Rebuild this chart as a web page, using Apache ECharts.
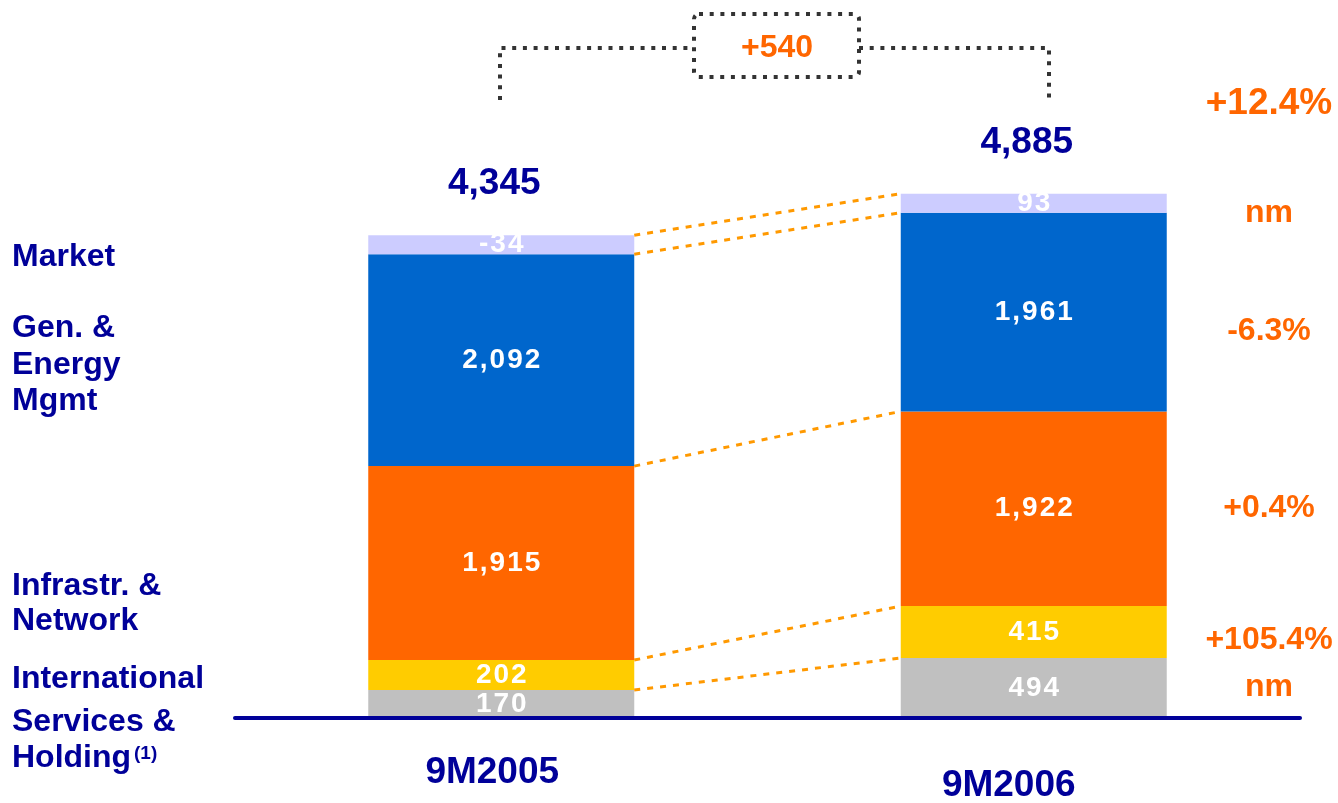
<!DOCTYPE html>
<html>
<head>
<meta charset="utf-8">
<script src="https://cdn.jsdelivr.net/npm/echarts@6.0.0/dist/echarts.min.js"></script>
<style>
html,body{margin:0;padding:0;background:#ffffff;}
#chart{width:1338px;height:803px;}
</style>
</head>
<body>
<div id="chart"></div>
<script>
// ---------------- data ----------------
const categories = ['9M2005', '9M2006'];
const totalLabels = ['4,345', '4,885'];
const deltaLabel = '+540';
const totalChange = '+12.4%';

// segment values shown as labels (bottom -> top)
const servicesValues = [170, 494];
const internationalValues = [202, 415];
const infraValues = [1915, 1922];
const genValues = [2092, 1961];
const marketValues = [-34, 93];

// segment heights as drawn in the picture (same units as the values)
const servicesHeights = [276, 592];
const internationalHeights = [296, 513];
const infraHeights = [1915, 1922];
const genHeights = [2092, 1961];
const marketHeights = [188, 188];

// segment changes (right side, top -> bottom)
const segmentChanges = ['nm', '-6.3%', '+0.4%', '+105.4%', 'nm'];

// segment names (left side)
const marketName = ['Market'];
const genName = ['Gen. &', 'Energy', 'Mgmt'];
const infraName = ['Infrastr. &', 'Network'];
const intlName = ['International'];
const servicesName = ['Services &', 'Holding'];
const footnoteMark = '(1)';

// ---------------- chart ----------------
const FONT = '"Liberation Sans", Arial, sans-serif';
const NAVY = '#000099';
const ORANGE_TXT = '#FF6600';
const BAR_W = 266;

const chart = echarts.init(document.getElementById('chart'), null, {renderer: 'canvas'});

function fmt(v) { return v.toLocaleString('en-US'); }
function spaced(s) { return s.split('').map(function (ch) { return '{c|' + ch + '}'; }).join(''); }

function barSeries(name, heights, values, color) {
  return {
    name: name,
    type: 'bar',
    stack: 'total',
    barWidth: BAR_W,
    data: heights,
    itemStyle: {color: color},
    label: {
      show: true,
      position: 'inside',
      formatter: function (p) { return spaced(fmt(values[p.dataIndex])); },
      rich: {
        c: {
          color: '#ffffff',
          fontFamily: FONT,
          fontWeight: 'bold',
          fontSize: 28,
          padding: [0, 1, 0, 1]
        }
      }
    },
    z: 2
  };
}

chart.setOption({
  animation: false,
  backgroundColor: '#ffffff',
  grid: {left: 235, right: 38, top: 9, bottom: 85, containLabel: false},
  xAxis: {
    type: 'category',
    data: categories,
    z: 10,
    axisLine: {show: true, lineStyle: {color: NAVY, width: 4}},
    axisTick: {show: false},
    axisLabel: {show: false},
    splitLine: {show: false}
  },
  yAxis: {
    type: 'value',
    min: 0,
    max: 7000,
    show: false
  },
  series: [
    barSeries('Services & Holding', servicesHeights, servicesValues, '#C0C0C0'),
    barSeries('International', internationalHeights, internationalValues, '#FFCC00'),
    barSeries('Infrastr. & Network', infraHeights, infraValues, '#FF6600'),
    barSeries('Gen. & Energy Mgmt', genHeights, genValues, '#0066CC'),
    barSeries('Market', marketHeights, marketValues, '#CCCCFF')
  ]
});

// ---------------- annotations ----------------
const stackHeights = [servicesHeights, internationalHeights, infraHeights, genHeights, marketHeights];
function boundaries(i) {
  const b = [0];
  let s = 0;
  stackHeights.forEach(function (arr) { s += arr[i]; b.push(s); });
  return b;
}
function px(i, v) { return chart.convertToPixel({gridIndex: 0}, [i, v]); }

const graphics = [];
const b0 = boundaries(0), b1 = boundaries(1);

// orange dotted connectors between segment boundaries
for (let k = 1; k < b0.length; k++) {
  const p0 = px(0, b0[k]);
  const p1 = px(1, b1[k]);
  graphics.push({
    type: 'line', z: 5,
    shape: {x1: p0[0] + BAR_W / 2, y1: p0[1], x2: p1[0] - BAR_W / 2, y2: p1[1]},
    style: {stroke: '#FF9900', lineWidth: 3, lineDash: [6, 7]}
  });
}

// totals above bars
[b0, b1].forEach(function (b, i) {
  const p = px(i, b[b.length - 1]);
  graphics.push({
    type: 'text', z: 5,
    style: {
      text: totalLabels[i], x: p[0] - 7, y: p[1] - 51,
      align: 'center', verticalAlign: 'middle',
      font: 'bold 37px ' + FONT, fill: NAVY
    }
  });
});

// category labels under the axis
const catOffsets = [[-9, 773], [-25, 786]];
categories.forEach(function (c, i) {
  const p = px(i, 0);
  graphics.push({
    type: 'text', z: 5,
    style: {
      text: c, x: p[0] + catOffsets[i][0], y: catOffsets[i][1],
      align: 'center', verticalAlign: 'middle',
      font: 'bold 37px ' + FONT, fill: NAVY
    }
  });
});

// bracket with delta box
const dotStyle = {stroke: '#333333', lineWidth: 4, lineDash: [4, 6.7], fill: null};
graphics.push({type: 'polyline', z: 5, shape: {points: [[500, 100], [500, 48], [693, 48]]}, style: dotStyle});
graphics.push({type: 'polyline', z: 5, shape: {points: [[859, 48], [1049, 48], [1049, 98]]}, style: dotStyle});
graphics.push({type: 'rect', z: 5, shape: {x: 694, y: 14, width: 165, height: 63, r: 5}, style: dotStyle});
graphics.push({
  type: 'text', z: 6,
  style: {text: deltaLabel, x: 777, y: 48, align: 'center', verticalAlign: 'middle',
          font: 'bold 32px ' + FONT, fill: ORANGE_TXT}
});

// right side changes
graphics.push({
  type: 'text', z: 6,
  style: {text: totalChange, x: 1269, y: 104, align: 'center', verticalAlign: 'middle',
          font: 'bold 37px ' + FONT, fill: ORANGE_TXT}
});
const changeY = [213, 331, 508, 640, 687];
segmentChanges.forEach(function (t, k) {
  graphics.push({
    type: 'text', z: 6,
    style: {text: t, x: 1269, y: changeY[k], align: 'center', verticalAlign: 'middle',
            font: 'bold 32px ' + FONT, fill: ORANGE_TXT}
  });
});

// left side segment names
function leftLines(lines, ys) {
  lines.forEach(function (t, k) {
    graphics.push({
      type: 'text', z: 6,
      style: {text: t, x: 12, y: ys[k], align: 'left', verticalAlign: 'middle',
              font: 'bold 32px ' + FONT, fill: NAVY}
    });
  });
}
leftLines(marketName, [257]);
leftLines(genName, [328, 365, 401]);
leftLines(infraName, [586, 621]);
leftLines(intlName, [679]);
leftLines(servicesName, [722, 758]);
graphics.push({
  type: 'text', z: 6,
  style: {text: footnoteMark, x: 134, y: 754, align: 'left', verticalAlign: 'middle',
          font: 'bold 19px ' + FONT, fill: NAVY}
});

chart.setOption({graphic: graphics});
</script>
</body>
</html>
